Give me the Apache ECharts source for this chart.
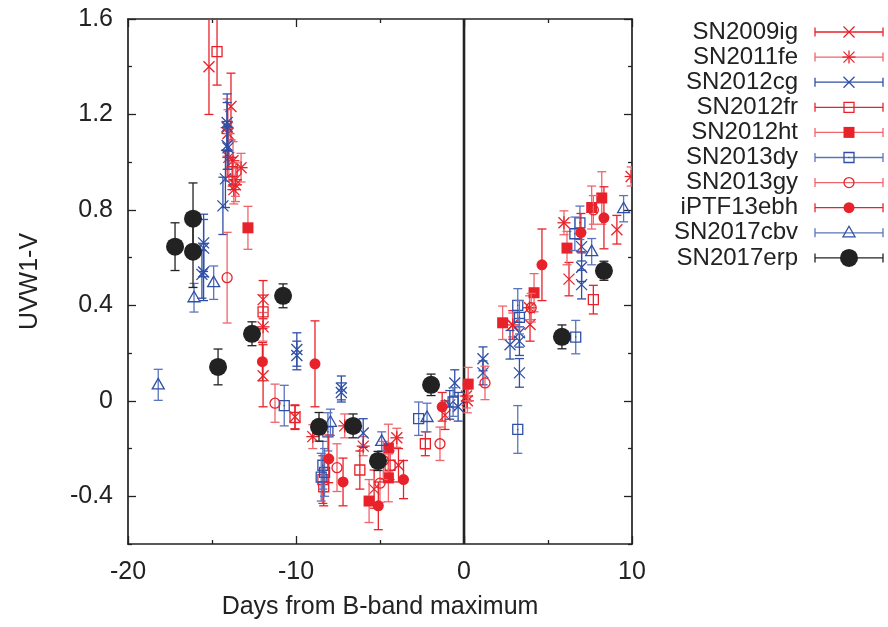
<!DOCTYPE html>
<html>
<head>
<meta charset="utf-8">
<script src="https://cdn.jsdelivr.net/npm/echarts@6/dist/echarts.min.js"></script>
<style>
  html, body { margin: 0; padding: 0; background: #ffffff; }
  #chart { width: 888px; height: 627px; }
</style>
</head>
<body>
<div id="chart"></div>
<script>
// UVW1-V colour evolution of type Ia supernovae around B-band maximum.
// Each point: [days from B max, UVW1-V, 1-sigma error]

const supernovae = ['SN2009ig', 'SN2011fe', 'SN2012cg', 'SN2012fr', 'SN2012ht',
                    'SN2013dy', 'SN2013gy', 'iPTF13ebh', 'SN2017cbv', 'SN2017erp'];

const sn2009ig = [
  [-15.18, 1.40, 0.20], [-13.87, 1.233, 0.14], [-11.96, 0.424, 0.08], [-11.96, 0.105, 0.13],
  [-10.06, -0.067, 0.05], [-5.35, -0.37, 0.08], [-3.9, -0.27, 0.07], [-1.13, -0.06, 0.06],
  [2.9, 0.318, 0.06], [3.93, 0.32, 0.07], [6.25, 0.51, 0.07], [9.1, 0.717, 0.06]
];
const sn2011fe = [
  [-14.1, 1.145, 0.12], [-14.05, 1.12, 0.10], [-14.0, 1.02, 0.10], [-13.75, 1.006, 0.08],
  [-13.27, 0.977, 0.06], [-13.6, 0.927, 0.07], [-13.6, 0.905, 0.07], [-13.7, 0.885, 0.06],
  [-11.96, 0.31, 0.06], [-9.0, -0.15, 0.05], [-7.1, -0.105, 0.05], [-6.0, -0.19, 0.04],
  [-4.0, -0.155, 0.04], [0.15, 0.02, 0.05], [0.2, 0.0, 0.05], [2.9, 0.318, 0.05],
  [3.9, 0.39, 0.05], [5.95, 0.746, 0.05], [9.95, 0.94, 0.04]
];
const sn2012cg = [
  [-14.1, 1.166, 0.12], [-14.1, 1.15, 0.10], [-14.1, 1.07, 0.10], [-14.05, 1.06, 0.09],
  [-14.2, 0.93, 0.12], [-14.35, 0.817, 0.12], [-15.5, 0.662, 0.12], [-15.5, 0.64, 0.12],
  [-15.5, 0.54, 0.12], [-15.6, 0.53, 0.10], [-9.95, 0.215, 0.07], [-9.95, 0.19, 0.06],
  [-7.3, 0.054, 0.05], [-7.3, 0.035, 0.04], [-6.0, -0.135, 0.06], [-0.55, 0.075, 0.055],
  [-0.85, -0.017, 0.06], [-0.35, -0.025, 0.06], [1.13, 0.176, 0.05], [1.13, 0.117, 0.05],
  [2.74, 0.235, 0.06], [3.3, 0.285, 0.06], [3.3, 0.25, 0.06], [3.3, 0.117, 0.06],
  [7.0, 0.646, 0.06], [7.0, 0.56, 0.06], [7.0, 0.487, 0.06]
];
const sn2012fr = [
  [-14.7, 1.463, 0.14], [-13.8, 0.96, 0.06], [-11.96, 0.373, 0.07], [-10.06, -0.07, 0.05],
  [-8.4, -0.33, 0.10], [-8.35, -0.36, 0.08], [-6.2, -0.29, 0.08], [-4.4, -0.27, 0.06],
  [-2.3, -0.18, 0.05], [7.7, 0.424, 0.06]
];
const sn2012ht = [
  [-12.86, 0.725, 0.09], [-4.5, -0.198, 0.10], [-4.5, -0.323, 0.10], [-5.65, -0.42, 0.09],
  [0.25, 0.07, 0.07], [2.3, 0.327, 0.07], [4.17, 0.453, 0.08], [6.13, 0.64, 0.07],
  [7.6, 0.81, 0.09], [8.2, 0.85, 0.11]
];
const sn2013dy = [
  [-10.7, -0.02, 0.085], [-8.4, -0.27, 0.10], [-8.3, -0.30, 0.10], [-8.5, -0.32, 0.10],
  [-8.1, -0.13, 0.08], [-2.7, -0.075, 0.07], [-0.65, -0.005, 0.06], [3.2, 0.40, 0.07],
  [3.3, 0.35, 0.07], [3.2, -0.12, 0.10], [6.65, 0.267, 0.07], [6.9, 0.746, 0.07],
  [6.6, 0.70, 0.07]
];
const sn2013gy = [
  [-14.1, 0.516, 0.19], [-11.25, -0.01, 0.08], [-7.56, -0.28, 0.10], [-4.8, -0.25, 0.08],
  [-5.0, -0.345, 0.08], [-1.43, -0.18, 0.07], [1.25, 0.075, 0.07], [4.0, 0.39, 0.06],
  [7.7, 0.80, 0.06]
];
const iptf13ebh = [
  [-12.0, 0.164, 0.08], [-8.87, 0.155, 0.18], [-8.05, -0.243, 0.10], [-7.2, -0.34, 0.10],
  [-5.1, -0.44, 0.10], [-3.6, -0.33, 0.08], [-1.3, -0.025, 0.06], [4.64, 0.57, 0.15],
  [6.96, 0.705, 0.08], [8.33, 0.767, 0.13]
];
const sn2017cbv = [
  [-18.2, 0.067, 0.065], [-16.07, 0.432, 0.06], [-14.9, 0.495, 0.07], [-7.95, -0.09, 0.055],
  [-4.9, -0.17, 0.04], [-2.2, -0.07, 0.06], [7.6, 0.625, 0.055], [9.5, 0.805, 0.055]
];
const sn2017erp = [
  [-17.2, 0.646, 0.10], [-16.13, 0.763, 0.15], [-16.13, 0.625, 0.15], [-14.64, 0.142, 0.075],
  [-12.62, 0.281, 0.05], [-10.77, 0.44, 0.05], [-8.63, -0.109, 0.06], [-6.6, -0.105, 0.05],
  [-5.12, -0.252, 0.04], [-1.96, 0.067, 0.045], [5.83, 0.268, 0.05], [8.33, 0.545, 0.04]
];

const xRange = [-20, 10];
const yRange = [-0.6, 1.6];
const yMajorTicks = [-0.4, 0, 0.4, 0.8, 1.2, 1.6];
const yMinorTicks = [-0.6, -0.2, 0.2, 0.6, 1.0, 1.4];
const maxLine = [[0, -0.6], [0, 1.6]];

const FONT = '"Liberation Sans", Arial, Helvetica, sans-serif';
const INK = '#222222';
const RED = '#e8222a';
const PINK = '#f0646c';
const BLUE = '#2f4fa6';
const LBLUE = '#5a74bd';

const seriesStyle = [
  { data: sn2009ig,  marker: 'cross',    color: RED,   bar: RED },
  { data: sn2011fe,  marker: 'star',     color: RED,   bar: PINK },
  { data: sn2012cg,  marker: 'cross',    color: BLUE,  bar: BLUE },
  { data: sn2012fr,  marker: 'square',   color: RED,   bar: RED },
  { data: sn2012ht,  marker: 'fsquare',  color: RED,   bar: PINK },
  { data: sn2013dy,  marker: 'dsquare',  color: BLUE,  bar: LBLUE },
  { data: sn2013gy,  marker: 'circle',   color: RED,   bar: PINK },
  { data: iptf13ebh, marker: 'fcircle',  color: RED,   bar: RED },
  { data: sn2017cbv, marker: 'triangle', color: BLUE,  bar: LBLUE },
  { data: sn2017erp, marker: 'bigdot',   color: INK,   bar: INK }
];

const LW = 1.3;

function lineEl(x1, y1, x2, y2, color, w) {
  return { type: 'line', shape: { x1, y1, x2, y2 },
           style: { stroke: color, lineWidth: w || LW, fill: null } };
}

function markerShapes(kind, cx, cy, color) {
  const h = 5.5;
  switch (kind) {
    case 'cross':
      return [lineEl(cx - h, cy - h, cx + h, cy + h, color), lineEl(cx - h, cy + h, cx + h, cy - h, color)];
    case 'star':
      return [lineEl(cx - h, cy - h, cx + h, cy + h, color), lineEl(cx - h, cy + h, cx + h, cy - h, color),
              lineEl(cx - h - 1, cy, cx + h + 1, cy, color), lineEl(cx, cy - h - 1, cx, cy + h + 1, color)];
    case 'square':
      return [{ type: 'rect', shape: { x: cx - 5, y: cy - 5, width: 10, height: 10 },
                style: { stroke: color, fill: null, lineWidth: LW } }];
    case 'dsquare':
      return [{ type: 'rect', shape: { x: cx - 5, y: cy - 5, width: 10, height: 10 },
                style: { stroke: color, fill: null, lineWidth: LW } },
              { type: 'circle', shape: { cx, cy, r: 0.8 }, style: { fill: color } }];
    case 'fsquare':
      return [{ type: 'rect', shape: { x: cx - 5.5, y: cy - 5.5, width: 11, height: 11 },
                style: { fill: color } }];
    case 'circle':
      return [{ type: 'circle', shape: { cx, cy, r: 5 },
                style: { stroke: color, fill: null, lineWidth: LW } }];
    case 'fcircle':
      return [{ type: 'circle', shape: { cx, cy, r: 5.5 }, style: { fill: color } }];
    case 'triangle':
      return [{ type: 'polygon', shape: { points: [[cx, cy - 6.5], [cx - 6, cy + 4], [cx + 6, cy + 4]] },
                style: { stroke: color, fill: null, lineWidth: LW } }];
    case 'bigdot':
      return [{ type: 'circle', shape: { cx, cy, r: 9 }, style: { fill: color } }];
  }
  return [];
}

function errorBarShapes(x, yTop, yBot, color) {
  const c = 4.5;
  return [lineEl(x, yTop, x, yBot, color),
          lineEl(x - c, yTop, x + c, yTop, color),
          lineEl(x - c, yBot, x + c, yBot, color)];
}

function makeRenderer(st) {
  return function (params, api) {
    const x = api.value(0), y = api.value(1), e = api.value(2);
    const p = api.coord([x, y]);
    const top = api.coord([x, y + e])[1];
    const bot = api.coord([x, y - e])[1];
    return {
      type: 'group',
      children: errorBarShapes(p[0], top, bot, st.bar).concat(markerShapes(st.marker, p[0], p[1], st.color))
    };
  };
}

const series = [{
  type: 'line', data: maxLine, symbol: 'none', silent: true, z: 1,
  lineStyle: { color: INK, width: 2.6 }, xAxisIndex: 0, yAxisIndex: 0
}];
seriesStyle.forEach((st, i) => {
  series.push({
    type: 'custom', name: supernovae[i], data: st.data, clip: true,
    encode: { x: 0, y: 1 }, renderItem: makeRenderer(st), z: 2 + i,
    xAxisIndex: 0, yAxisIndex: 0
  });
});

// Key on the right: name, then an error bar with the marker in its middle
const legendEls = [];
supernovae.forEach((name, i) => {
  const st = seriesStyle[i];
  const y = 32 + i * 25.1;
  legendEls.push({ type: 'text', style: { text: name, x: 798, y, textAlign: 'right', textVerticalAlign: 'middle',
                   font: '24px ' + FONT, fill: INK } });
  legendEls.push(lineEl(815, y, 883, y, st.bar));
  legendEls.push(lineEl(815, y - 4.5, 815, y + 4.5, st.bar));
  legendEls.push(lineEl(883, y - 4.5, 883, y + 4.5, st.bar));
  markerShapes(st.marker, 849, y, st.color).forEach(el => legendEls.push(el));
});

const axisLineStyle = { color: INK, width: 1.7 };
const tickStyle = { color: INK, width: 1.3 };

function xAxisDef(pos, withLabels) {
  return {
    type: 'value', position: pos, min: xRange[0], max: xRange[1], interval: 10,
    axisLine: { show: true, onZero: false, lineStyle: axisLineStyle },
    axisTick: { show: true, inside: true, length: 8, lineStyle: tickStyle },
    minorTick: { show: true, splitNumber: 2, length: 4, lineStyle: tickStyle },
    splitLine: { show: false }, minorSplitLine: { show: false },
    axisLabel: { show: withLabels, fontSize: 25, fontFamily: FONT, color: INK, margin: 16 },
    name: withLabels ? 'Days from B-band maximum' : '',
    nameLocation: 'middle', nameGap: 51,
    nameTextStyle: { fontSize: 25, fontFamily: FONT, color: INK }
  };
}

function yAxisDef(pos, ticks, len, withLabels, showLine) {
  return {
    type: 'value', position: pos, min: yRange[0], max: yRange[1],
    axisLine: { show: showLine, onZero: false, lineStyle: axisLineStyle },
    axisTick: { show: true, inside: true, length: len, customValues: ticks, lineStyle: tickStyle },
    splitLine: { show: false },
    axisLabel: { show: withLabels, customValues: ticks, fontSize: 25, fontFamily: FONT, color: INK, margin: 15,
                 formatter: v => (Math.abs(v) < 1e-9 ? '0' : v.toFixed(1)) },
    name: withLabels ? 'UVW1-V' : '',
    nameLocation: 'middle', nameGap: 85,
    nameTextStyle: { fontSize: 25, fontFamily: FONT, color: INK }
  };
}

const chart = echarts.init(document.getElementById('chart'), null, { renderer: 'canvas' });
chart.setOption({
  animation: false,
  backgroundColor: '#ffffff',
  grid: { left: 128, right: 256, top: 19, bottom: 83 },
  xAxis: [xAxisDef('bottom', true), xAxisDef('top', false)],
  yAxis: [
    yAxisDef('left', yMajorTicks, 8, true, true),
    yAxisDef('left', yMinorTicks, 4, false, false),
    yAxisDef('right', yMajorTicks, 8, false, true),
    yAxisDef('right', yMinorTicks, 4, false, false)
  ],
  series: series,
  graphic: legendEls
});
</script>
</body>
</html>
